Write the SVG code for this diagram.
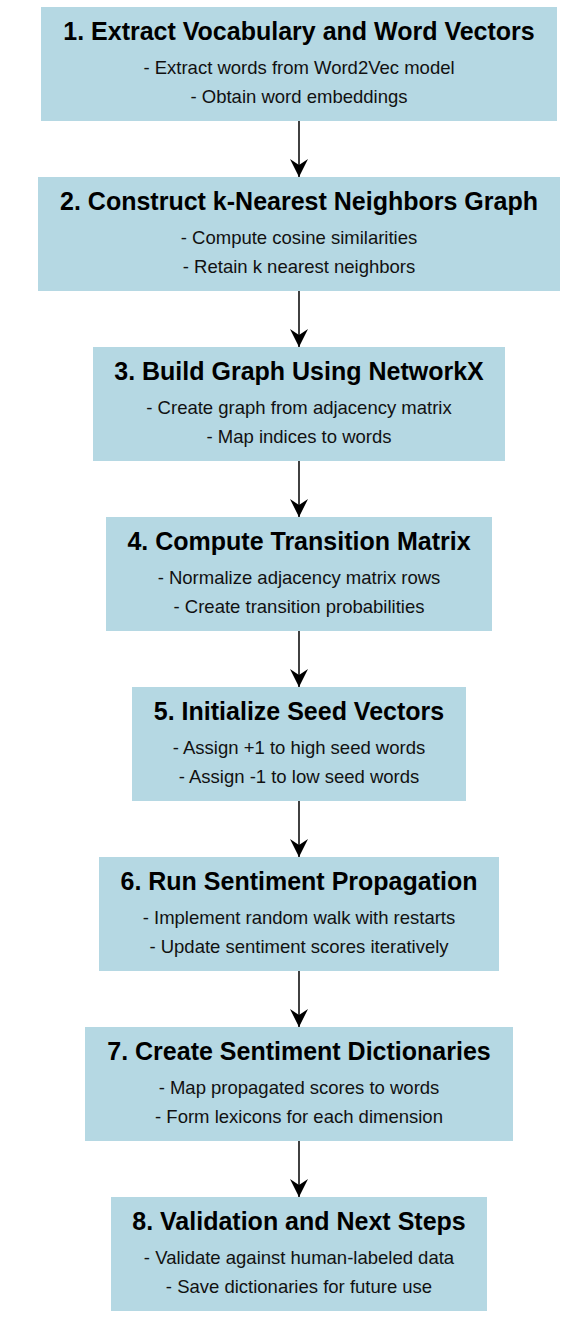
<svg xmlns="http://www.w3.org/2000/svg" width="570" height="1334" viewBox="0 0 570 1334">
<style>
.box{fill:#b5d8e3;}
.t{font-family:"Liberation Sans",Arial,sans-serif;font-size:25px;font-weight:bold;fill:#000;text-anchor:middle;}
.s{font-family:"Liberation Sans",Arial,sans-serif;font-size:18.5px;fill:#111;text-anchor:middle;}
.c{stroke:#111;stroke-width:1.6;fill:none;}
</style>
<defs>
<marker id="ah" viewBox="0 0 20 20" refX="18" refY="10" markerWidth="20" markerHeight="20" markerUnits="userSpaceOnUse" orient="auto">
<path d="M0,1 L18,10 L0,19 L6,10 Z" fill="#000"/>
</marker>
</defs>
<rect width="570" height="1334" fill="#fff"/>
<g id="connectors">
<line class="c" x1="299" y1="121" x2="299" y2="177" marker-end="url(#ah)"/>
<line class="c" x1="299" y1="291" x2="299" y2="347" marker-end="url(#ah)"/>
<line class="c" x1="299" y1="461" x2="299" y2="517" marker-end="url(#ah)"/>
<line class="c" x1="299" y1="631" x2="299" y2="687" marker-end="url(#ah)"/>
<line class="c" x1="299" y1="801" x2="299" y2="857" marker-end="url(#ah)"/>
<line class="c" x1="299" y1="971" x2="299" y2="1027" marker-end="url(#ah)"/>
<line class="c" x1="299" y1="1141" x2="299" y2="1197" marker-end="url(#ah)"/>
</g>
<g id="node1">
<rect class="box" x="41" y="7" width="516" height="114"/>
<text class="t" x="299" y="40">1. Extract Vocabulary and Word Vectors</text>
<text class="s" x="299" y="74">- Extract words from Word2Vec model</text>
<text class="s" x="299" y="103">- Obtain word embeddings</text>
</g>
<g id="node2">
<rect class="box" x="38" y="177" width="522" height="114"/>
<text class="t" x="299" y="210">2. Construct k-Nearest Neighbors Graph</text>
<text class="s" x="299" y="244">- Compute cosine similarities</text>
<text class="s" x="299" y="273">- Retain k nearest neighbors</text>
</g>
<g id="node3">
<rect class="box" x="93" y="347" width="412" height="114"/>
<text class="t" x="299" y="380">3. Build Graph Using NetworkX</text>
<text class="s" x="299" y="414">- Create graph from adjacency matrix</text>
<text class="s" x="299" y="443">- Map indices to words</text>
</g>
<g id="node4">
<rect class="box" x="106" y="517" width="386" height="114"/>
<text class="t" x="299" y="550">4. Compute Transition Matrix</text>
<text class="s" x="299" y="584">- Normalize adjacency matrix rows</text>
<text class="s" x="299" y="613">- Create transition probabilities</text>
</g>
<g id="node5">
<rect class="box" x="132" y="687" width="334" height="114"/>
<text class="t" x="299" y="720">5. Initialize Seed Vectors</text>
<text class="s" x="299" y="754">- Assign +1 to high seed words</text>
<text class="s" x="299" y="783">- Assign -1 to low seed words</text>
</g>
<g id="node6">
<rect class="box" x="99" y="857" width="400" height="114"/>
<text class="t" x="299" y="890">6. Run Sentiment Propagation</text>
<text class="s" x="299" y="924">- Implement random walk with restarts</text>
<text class="s" x="299" y="953">- Update sentiment scores iteratively</text>
</g>
<g id="node7">
<rect class="box" x="85" y="1027" width="428" height="114"/>
<text class="t" x="299" y="1060">7. Create Sentiment Dictionaries</text>
<text class="s" x="299" y="1094">- Map propagated scores to words</text>
<text class="s" x="299" y="1123">- Form lexicons for each dimension</text>
</g>
<g id="node8">
<rect class="box" x="111" y="1197" width="376" height="114"/>
<text class="t" x="299" y="1230">8. Validation and Next Steps</text>
<text class="s" x="299" y="1264">- Validate against human-labeled data</text>
<text class="s" x="299" y="1293">- Save dictionaries for future use</text>
</g>
</svg>
